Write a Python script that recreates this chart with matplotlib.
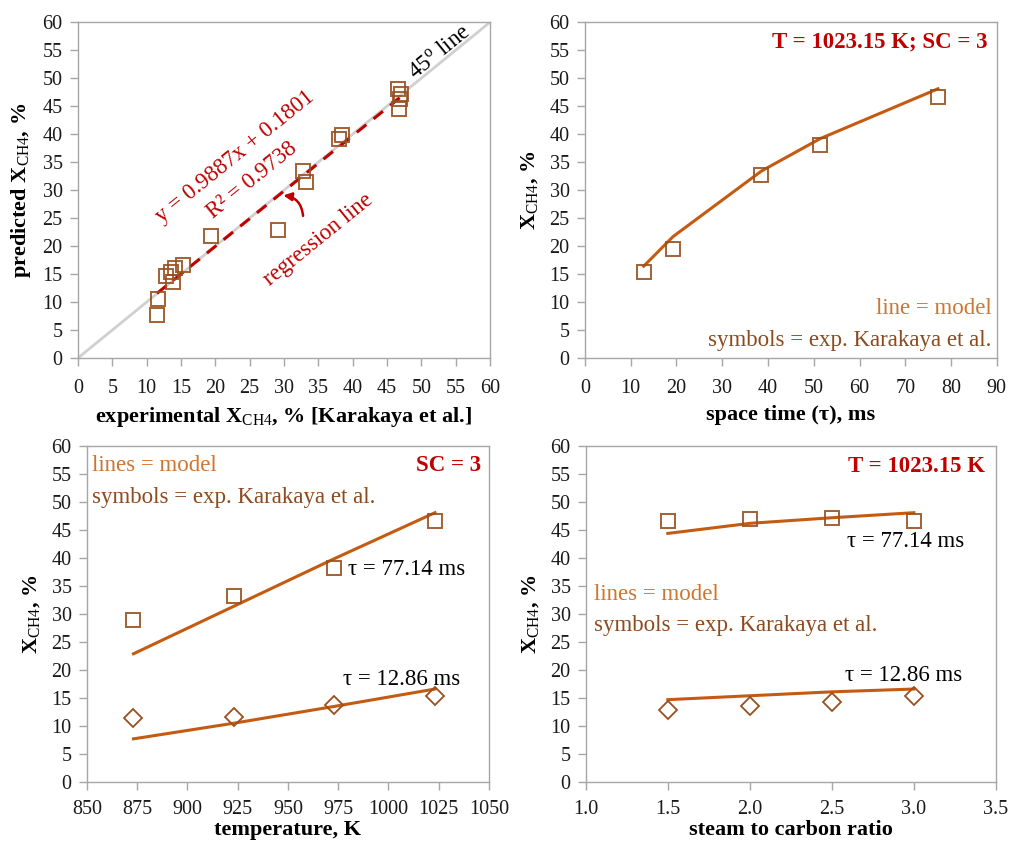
import numpy as np
import matplotlib
matplotlib.use("Agg")
from matplotlib import pyplot as plt

plt.rcParams['font.family'] = ['Liberation Serif', 'DejaVu Serif']
plt.rcParams['mathtext.fontset'] = 'custom'
plt.rcParams['mathtext.rm'] = 'Liberation Serif'
plt.rcParams['mathtext.it'] = 'Liberation Serif:italic'
plt.rcParams['mathtext.bf'] = 'Liberation Serif:bold'

# parity plot: experimental vs predicted conversion
exp_all = [11.5, 11.6, 12.8, 13.6, 14.2, 13.8, 15.3, 19.4, 29.1, 32.7, 33.2,
           38.0, 38.4, 46.6, 47.1, 46.9, 46.8]
pred_all = [7.7, 10.5, 14.7, 15.4, 16.1, 13.5, 16.6, 21.8, 22.9, 33.4, 31.4,
            39.2, 39.9, 48.1, 47.2, 46.2, 44.4]
slope, intercept = 0.9887, 0.1801
r2 = 0.9738

# space time series (T = 1023.15 K, SC = 3)
tau = [12.86, 19.29, 38.57, 51.43, 77.14]
tau_exp = [15.3, 19.5, 32.7, 38.0, 46.6]
tau_model = [16.4, 21.7, 33.4, 39.2, 48.1]

# temperature series (SC = 3)
temp = [873.15, 923.15, 973.15, 1023.15]
temp_exp_77 = [29.0, 33.2, 38.3, 46.6]
temp_model_77 = [22.9, 31.4, 39.9, 48.1]
temp_exp_12 = [11.5, 11.6, 13.8, 15.3]
temp_model_12 = [7.7, 10.5, 13.5, 16.6]

# steam to carbon series (T = 1023.15 K)
sc = [1.5, 2.0, 2.5, 3.0]
sc_exp_77 = [46.7, 46.9, 47.1, 46.6]
sc_model_77 = [44.4, 46.2, 47.2, 48.1]
sc_exp_12 = [12.8, 13.5, 14.2, 15.3]
sc_model_12 = [14.7, 15.4, 16.1, 16.6]

c_line = '#c55a11'
c_sym = '#98501f'
c_red = '#c00000'
c_model_txt = '#d0752e'
c_sym_txt = '#8c4a1e'
c_axis = '#a6a6a6'

fs_tick = 14.5
fs_lab = 16
fs_txt = 16.5

fig = plt.figure(figsize=(10.1, 8.46), dpi=100)

def style(ax, xpad=9):
    for s in ax.spines.values():
        s.set_color(c_axis)
        s.set_linewidth(1.0)
    ax.tick_params(direction='out', length=6, width=1.0, color=c_axis,
                   labelsize=fs_tick, labelcolor='#1a1a1a')
    ax.tick_params(axis='x', pad=xpad)
    ax.tick_params(axis='y', pad=5)

def squares(ax, x, y):
    ax.plot(x, y, linestyle='none', marker='s', markersize=9.8,
            markerfacecolor='none', markeredgecolor=c_sym, markeredgewidth=1.4,
            alpha=0.9, zorder=4)

def diamonds(ax, x, y):
    ax.plot(x, y, linestyle='none', marker='D', markersize=9.0,
            markerfacecolor='none', markeredgecolor=c_sym, markeredgewidth=1.3,
            zorder=4)

ylab = r'X$_{\mathrm{CH4}}$, %'

# ---- top left
ax1 = fig.add_axes([0.0772, 0.5768, 0.408, 0.397])
style(ax1)
ax1.plot([0, 60], [0, 60], color='#d0d0d0', lw=2, zorder=1)
xr = np.array([min(exp_all), max(exp_all)])
ax1.plot(xr, slope * xr + intercept, color=c_red, lw=2.2, dashes=(4, 3), zorder=2)
squares(ax1, exp_all, pred_all)
ax1.set_xlim(0, 60)
ax1.set_ylim(0, 60)
ax1.set_xticks(range(0, 61, 5))
ax1.set_yticks(range(0, 61, 5))
ax1.set_xlabel(r'experimental X$_{\mathrm{CH4}}$, % [Karakaya et al.]',
               fontsize=fs_lab, fontweight='bold', labelpad=5)
ax1.set_ylabel('predicted ' + ylab, fontsize=fs_lab, fontweight='bold', labelpad=7)
rot = 39
ax1.text(52.7, 54.7, r'45$^{\mathrm{o}}$ line', rotation=rot, fontsize=fs_txt,
         ha='center', va='center', rotation_mode='anchor')
ax1.text(22.9, 35.9, 'y = %.4fx + %.4f' % (slope, intercept), rotation=rot,
         fontsize=fs_txt, color=c_red, ha='center', va='center', rotation_mode='anchor')
ax1.text(25.4, 31.8, 'R² = %.4f' % r2, rotation=rot, fontsize=fs_txt, color=c_red,
         ha='center', va='center', rotation_mode='anchor')
ax1.text(35.0, 21.2, 'regression line', rotation=rot, fontsize=fs_txt, color=c_red,
         ha='center', va='center', rotation_mode='anchor')
ax1.annotate('', xy=(29.5, 29.1), xytext=(32.8, 24.9),
             arrowprops=dict(arrowstyle='-|>', color=c_red, lw=1.8,
                             connectionstyle='arc3,rad=0.45', mutation_scale=12))

# ---- top right
ax2 = fig.add_axes([0.579, 0.5768, 0.408, 0.397])
style(ax2)
ax2.plot(tau, tau_model, color=c_line, lw=2.2, zorder=3)
squares(ax2, tau, tau_exp)
ax2.set_xlim(0, 90)
ax2.set_ylim(0, 60)
ax2.set_xticks(range(0, 91, 10))
ax2.set_yticks(range(0, 61, 5))
ax2.set_xlabel('space time (τ), ms', fontsize=fs_lab, fontweight='bold', labelpad=5)
ax2.set_ylabel(ylab, fontsize=fs_lab, fontweight='bold', labelpad=7)
ax2.text(88.0, 56.5, 'T = 1023.15 K; SC = 3', color=c_red, fontsize=fs_txt,
         fontweight='bold', ha='right', va='center')
ax2.text(88.9, 8.9, 'line = model', color=c_model_txt, fontsize=fs_txt,
         ha='right', va='center')
ax2.text(88.9, 3.1, 'symbols = exp. Karakaya et al.', color=c_sym_txt,
         fontsize=fs_txt, ha='right', va='center')

# ---- bottom left
ax3 = fig.add_axes([0.0861, 0.0757, 0.398, 0.397])
style(ax3, xpad=7)
ax3.plot(temp, temp_model_77, color=c_line, lw=2.2, zorder=3)
ax3.plot(temp, temp_model_12, color=c_line, lw=2.2, zorder=3)
squares(ax3, temp, temp_exp_77)
diamonds(ax3, temp, temp_exp_12)
ax3.set_xlim(850, 1050)
ax3.set_ylim(0, 60)
ax3.set_xticks(range(850, 1051, 25))
ax3.set_yticks(range(0, 61, 5))
ax3.set_xlabel('temperature, K', fontsize=fs_lab, fontweight='bold', labelpad=1)
ax3.set_ylabel(ylab, fontsize=fs_lab, fontweight='bold', labelpad=7)
ax3.text(852.5, 56.6, 'lines = model', color=c_model_txt, fontsize=fs_txt,
         ha='left', va='center')
ax3.text(852.5, 50.9, 'symbols = exp. Karakaya et al.', color=c_sym_txt,
         fontsize=fs_txt, ha='left', va='center')
ax3.text(1046, 56.6, 'SC = 3', color=c_red, fontsize=fs_txt, fontweight='bold',
         ha='right', va='center')
ax3.text(980, 38.0, 'τ = 77.14 ms', fontsize=fs_txt, ha='left', va='center')
ax3.text(977.2, 18.3, 'τ = 12.86 ms', fontsize=fs_txt, ha='left', va='center')

# ---- bottom right
ax4 = fig.add_axes([0.580, 0.0757, 0.406, 0.397])
style(ax4, xpad=7)
ax4.plot(sc, sc_model_77, color=c_line, lw=2.2, zorder=3)
ax4.plot(sc, sc_model_12, color=c_line, lw=2.2, zorder=3)
squares(ax4, sc, sc_exp_77)
diamonds(ax4, sc, sc_exp_12)
ax4.set_xlim(1.0, 3.5)
ax4.set_ylim(0, 60)
ax4.set_xticks(np.arange(1.0, 3.51, 0.5))
ax4.set_xticklabels(['%.1f' % v for v in np.arange(1.0, 3.51, 0.5)])
ax4.set_yticks(range(0, 61, 5))
ax4.set_xlabel('steam to carbon ratio', fontsize=fs_lab, fontweight='bold', labelpad=1)
ax4.set_ylabel(ylab, fontsize=fs_lab, fontweight='bold', labelpad=7)
ax4.text(3.433, 56.3, 'T = 1023.15 K', color=c_red, fontsize=fs_txt,
         fontweight='bold', ha='right', va='center')
ax4.text(1.05, 33.4, 'lines = model', color=c_model_txt, fontsize=fs_txt,
         ha='left', va='center')
ax4.text(1.05, 27.9, 'symbols = exp. Karakaya et al.', color=c_sym_txt,
         fontsize=fs_txt, ha='left', va='center')
ax4.text(2.59, 43.0, 'τ = 77.14 ms', fontsize=fs_txt, ha='left', va='center')
ax4.text(2.58, 19.0, 'τ = 12.86 ms', fontsize=fs_txt, ha='left', va='center')

fig.savefig('out.png', dpi=100)
